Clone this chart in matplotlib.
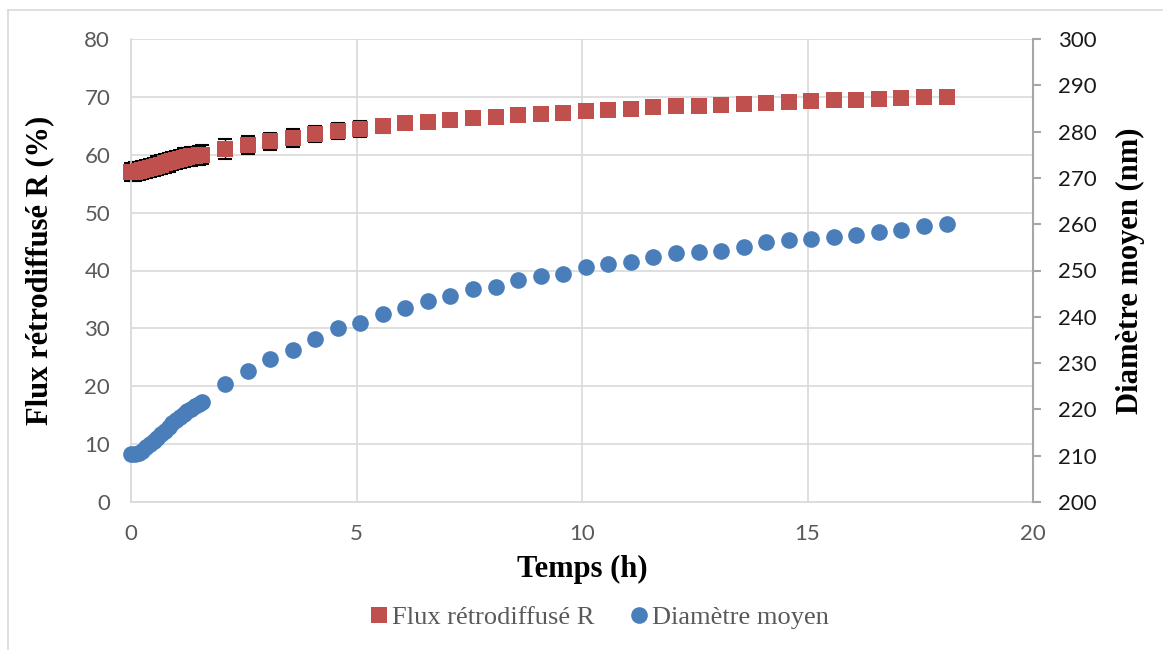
import matplotlib.pyplot as plt
from matplotlib.lines import Line2D

# sampling times in minutes (5 min at start, then every 30 min)
minutes = [0, 5, 10, 15, 20, 25, 30, 35, 40, 45, 50, 55, 60, 65, 70, 75, 80, 85, 90, 95,
           125, 155, 185, 215, 245, 275, 305, 335, 365, 395, 425, 455, 485, 515, 545,
           575, 605, 635, 665, 695, 725, 755, 785, 815, 845, 875, 905, 935, 965, 995,
           1025, 1055, 1085]

flux = [57.0, 57.1, 57.2, 57.4, 57.5, 57.7, 57.9, 58.1, 58.3, 58.5, 58.7, 58.9, 59.1,
        59.3, 59.5, 59.6, 59.7, 59.8, 59.9, 60.0,
        61.0, 61.7, 62.3, 62.9, 63.6, 64.1, 64.5, 64.9, 65.4, 65.7, 66.0, 66.4, 66.5,
        66.8, 67.1, 67.2, 67.6, 67.8, 67.9, 68.2, 68.4, 68.5, 68.6, 68.7, 69.0, 69.2,
        69.3, 69.4, 69.4, 69.7, 69.8, 70.0, 70.0]

flux_err = [1.6] * 20 + [1.8, 1.6, 1.5, 1.6, 1.4, 1.4, 1.35, 1.1] + [1.0] * 25

diam = [210.3, 210.4, 210.6, 211.0, 211.8, 212.5, 213.1, 213.9, 214.6, 215.4, 216.3,
        217.0, 217.7, 218.4, 219.0, 219.6, 220.1, 220.7, 221.2, 221.6,
        225.4, 228.4, 230.8, 232.8, 235.2, 237.6, 238.7, 240.6, 242.0, 243.5, 244.6,
        246.0, 246.4, 247.9, 248.8, 249.3, 250.8, 251.5, 251.8, 253.0, 253.8, 254.1,
        254.3, 255.1, 256.2, 256.6, 256.9, 257.3, 257.6, 258.4, 258.7, 259.6, 260.0]

hours = [m / 60 for m in minutes]

red = '#C0504D'
blue = '#4A7EBB'
grid_c = '#D9D9D9'
tick_font = 'Lato'
serif = 'Liberation Serif'

fig = plt.figure(figsize=(11.63, 6.5), dpi=100)
ax = fig.add_axes([131 / 1163, 1 - 502 / 650, (1033 - 131) / 1163, (502 - 39) / 650])
ax2 = ax.twinx()

ax.errorbar(hours, flux, yerr=flux_err, fmt='none', ecolor='black', elinewidth=1.0,
            capsize=5, capthick=1.5, zorder=2, clip_on=False)
ax.plot(hours, flux, 's', color=red, markersize=11.5, markeredgewidth=0,
        zorder=3, clip_on=False, label='Flux rétrodiffusé R')
ax2.plot(hours, diam, 'o', color=blue, markersize=12, markeredgewidth=0,
         zorder=3, clip_on=False, label='Diamètre moyen')

ax.set_xlim(0, 20)
ax.set_ylim(0, 80)
ax2.set_ylim(200, 300)
ax.set_xticks([0, 5, 10, 15, 20])
ax.set_yticks(range(0, 81, 10))
ax2.set_yticks(range(200, 301, 10))

ax.grid(True, color=grid_c, linewidth=1.2)
ax.set_axisbelow(True)

for s in ['top', 'right']:
    ax.spines[s].set_visible(False)
for s in ['left', 'bottom']:
    ax.spines[s].set_color(grid_c)
    ax.spines[s].set_linewidth(1.2)
for s in ['top', 'left', 'bottom']:
    ax2.spines[s].set_visible(False)
ax2.spines['right'].set_color('#A6A6A6')
ax2.spines['right'].set_linewidth(1.5)

ax.tick_params(axis='y', length=0, pad=15, labelsize=16, labelcolor='#595959')
ax.tick_params(axis='x', length=0, pad=16, labelsize=16, labelcolor='#595959')
ax2.tick_params(axis='y', direction='out', length=6, width=1.5, color='#A6A6A6',
                pad=12, labelsize=16, labelcolor='#1A1A1A')
for lab in ax.get_xticklabels() + ax.get_yticklabels() + ax2.get_yticklabels():
    lab.set_family(tick_font)

ax.set_xlabel('Temps (h)', family=serif, fontweight='bold', fontsize=22, labelpad=8)
ax.set_ylabel('Flux rétrodiffusé R (%)', family=serif, fontweight='bold', fontsize=22,
              labelpad=22)
ax2.set_ylabel('Diamètre moyen (nm)', family=serif, fontweight='bold', fontsize=22,
               labelpad=14)

h1, l1 = ax.get_legend_handles_labels()
h2, l2 = ax2.get_legend_handles_labels()
fig.legend(h1 + h2, l1 + l2, loc='center', bbox_to_anchor=(0.516, 1 - 617 / 650),
           ncol=2, frameon=False, handlelength=0.6, handletextpad=0.2,
           columnspacing=1.4, prop={'family': serif, 'size': 19},
           labelcolor='#595959')

# light outer frame
fig.add_artist(Line2D([8 / 1163, 8 / 1163], [0, 1 - 10 / 650], transform=fig.transFigure,
                      color=grid_c, linewidth=1.2))
fig.add_artist(Line2D([8 / 1163, 1], [1 - 10 / 650, 1 - 10 / 650], transform=fig.transFigure,
                      color=grid_c, linewidth=1.2))

fig.savefig('out.png', dpi=100)
